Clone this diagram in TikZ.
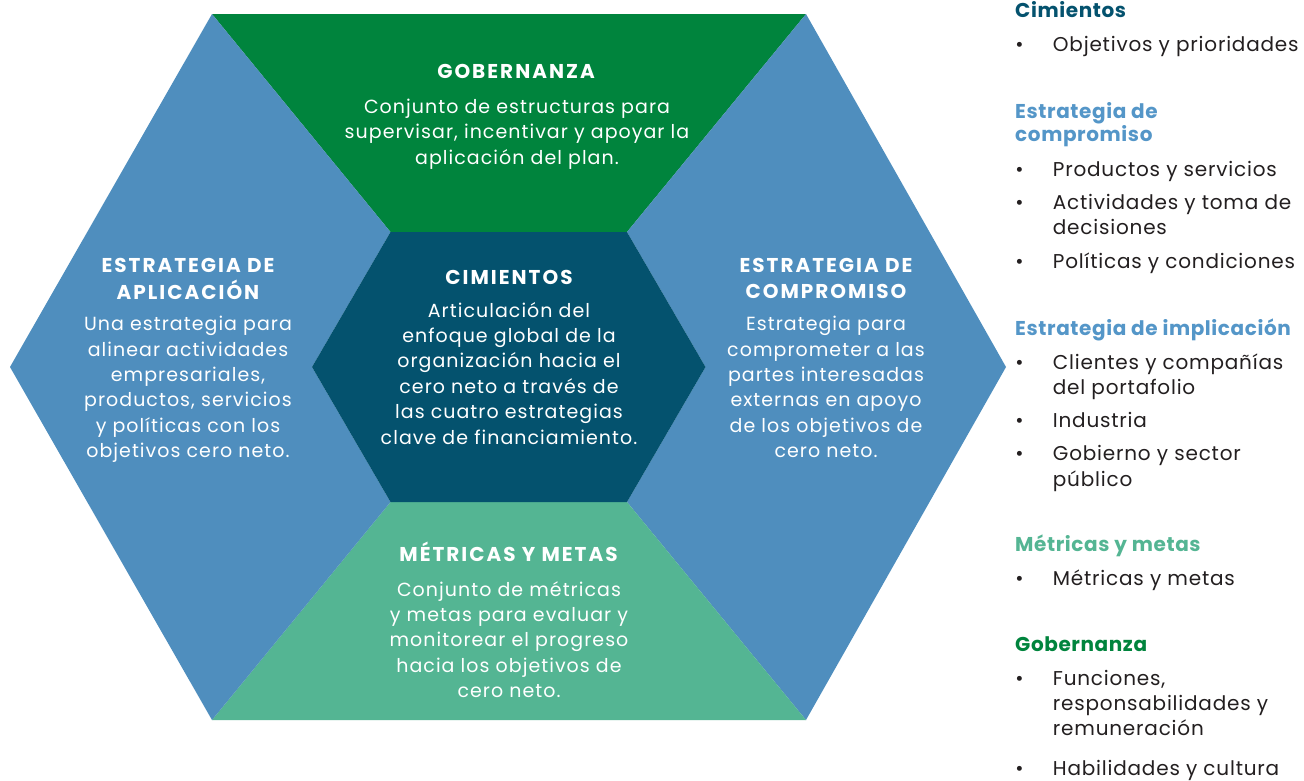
\documentclass[tikz,border=0pt]{standalone}
\usepackage{fontspec}
\setmainfont{Poppins}
\definecolor{govgreen}{RGB}{0,132,61}
\definecolor{stratblue}{RGB}{79,142,190}
\definecolor{foundteal}{RGB}{4,82,110}
\definecolor{metgreen}{RGB}{84,181,147}
\definecolor{headblue}{RGB}{84,150,200}
\definecolor{bodytext}{RGB}{35,31,32}
\newcommand\headfont{\fontsize{20}{26}\selectfont\bfseries\addfontfeature{LetterSpace=10}}
\newcommand\bodyfont{\fontsize{19}{25.4}\selectfont\addfontfeature{LetterSpace=5.5}}
\newcommand\legheadfont{\fontsize{20}{23.5}\selectfont\bfseries\addfontfeature{LetterSpace=3}}
\newcommand\legbodyfont{\fontsize{20}{25.3}\selectfont\addfontfeature{LetterSpace=4}}
\newcommand\cblk[1]{\begin{tabular}[t]{@{}c@{}}#1\end{tabular}}
\newcommand\lblk[1]{\begin{tabular}[t]{@{}l@{}}#1\end{tabular}}
\begin{document}
\begin{tikzpicture}[x=1pt,y=-1pt,
  hexhead/.style={anchor=base, text=white, font=\headfont, inner sep=0pt},
  hexbody/.style={anchor=base, text=white, font=\bodyfont, inner sep=0pt},
  leghead/.style={anchor=base west, font=\legheadfont, inner sep=0pt},
  legitem/.style={anchor=base west, text=bodytext, font=\legbodyfont, inner sep=0pt},
  legbullet/.style={anchor=base, text=bodytext, font=\legbodyfont, inner sep=0pt},
]
\path[use as bounding box, fill=white] (0,0) rectangle (1304,780);
% outer hexagon vertices
\coordinate (O1) at (212,14);
\coordinate (O2) at (806,14);
\coordinate (O3) at (1006,367);
\coordinate (O4) at (806,720);
\coordinate (O5) at (212,720);
\coordinate (O6) at (10,367);
% inner hexagon vertices
\coordinate (I1) at (390.5,232);
\coordinate (I2) at (627,232);
\coordinate (I3) at (705.5,367);
\coordinate (I4) at (627,502);
\coordinate (I5) at (390.5,502);
\coordinate (I6) at (312,367);
% segments
\fill[govgreen] (O1) -- (O2) -- (I2) -- (I1) -- cycle;
\fill[stratblue] (O2) -- (O3) -- (O4) -- (I4) -- (I3) -- (I2) -- cycle;
\fill[metgreen] (I5) -- (I4) -- (O4) -- (O5) -- cycle;
\fill[stratblue] (O1) -- (I1) -- (I6) -- (I5) -- (O5) -- (O6) -- cycle;
\fill[foundteal] (I1) -- (I2) -- (I3) -- (I4) -- (I5) -- (I6) -- cycle;
% hexagon texts
\node[hexhead] (govhead) at (516,78) {GOBERNANZA};
\node[hexbody] (govbody) at (517,113.3) {\cblk{Conjunto de estructuras para\\supervisar, incentivar y apoyar la\\aplicación del plan.}};
\node[hexhead] (cimhead) at (509,284) {CIMIENTOS};
\node[hexbody] (cimbody) at (509,317) {\cblk{Articulación del\\enfoque global de la\\organización hacia el\\cero neto a través de\\las cuatro estrategias\\clave de financiamiento.}};
\node[hexhead] (methead) at (508.5,561.7) {MÉTRICAS Y METAS};
\node[hexbody] (metbody) at (509,596) {\cblk{Conjunto de métricas\\y metas para evaluar y\\monitorear el progreso\\hacia los objetivos de\\cero neto.}};
\node[hexhead] (aplhead) at (188,272.3) {\cblk{ESTRATEGIA DE\\APLICACIÓN}};
\node[hexbody] (aplbody) at (188,330.7) {\cblk{Una estrategia para\\alinear actividades\\empresariales,\\productos, servicios\\y políticas con los\\objetivos cero neto.}};
\node[hexhead] (comhead) at (826,272.3) {\cblk{ESTRATEGIA DE\\COMPROMISO}};
\node[hexbody] (combody) at (826,330.7) {\cblk{Estrategia para\\comprometer a las\\partes interesadas\\externas en apoyo\\de los objetivos de\\cero neto.}};
% legend
\node[leghead, text=foundteal] (lgcim) at (1015,17.3) {Cimientos};
\node[legbullet] (b1) at (1019.5,51.7) {•};
\node[legitem] (i1) at (1052.7,51.7) {Objetivos y prioridades};
\node[leghead, text=headblue] (lgcom) at (1015,118.3) {\lblk{Estrategia de\\compromiso}};
\node[legbullet] (b2) at (1019.5,176) {•};
\node[legitem] (i2) at (1052.7,176) {Productos y servicios};
\node[legbullet] (b3) at (1019.5,209.3) {•};
\node[legitem] (i3) at (1052.7,209.3) {\lblk{Actividades y toma de\\decisiones}};
\node[legbullet] (b4) at (1019.5,268.3) {•};
\node[legitem] (i4) at (1052.7,268.3) {Políticas y condiciones};
\node[leghead, text=headblue] (lgimp) at (1015,335) {Estrategia de implicación};
\node[legbullet] (b5) at (1019.5,369.3) {•};
\node[legitem] (i5) at (1052.7,369.3) {\lblk{Clientes y compañías\\del portafolio}};
\node[legbullet] (b6) at (1019.5,427.3) {•};
\node[legitem] (i6) at (1052.7,427.3) {Industria};
\node[legbullet] (b7) at (1019.5,460.7) {•};
\node[legitem] (i7) at (1052.7,460.7) {\lblk{Gobierno y sector\\público}};
\node[leghead, text=metgreen] (lgmet) at (1015,551.7) {Métricas y metas};
\node[legbullet] (b8) at (1019.5,585) {•};
\node[legitem] (i8) at (1052.7,585) {Métricas y metas};
\node[leghead, text=govgreen] (lggov) at (1015,651) {Gobernanza};
\node[legbullet] (b9) at (1019.5,685) {•};
\node[legitem] (i9) at (1052.7,685) {\lblk{Funciones,\\responsabilidades y\\remuneración}};
\node[legbullet] (b10) at (1019.5,775) {•};
\node[legitem] (i10) at (1052.7,775) {Habilidades y cultura};
\end{tikzpicture}
\end{document}
